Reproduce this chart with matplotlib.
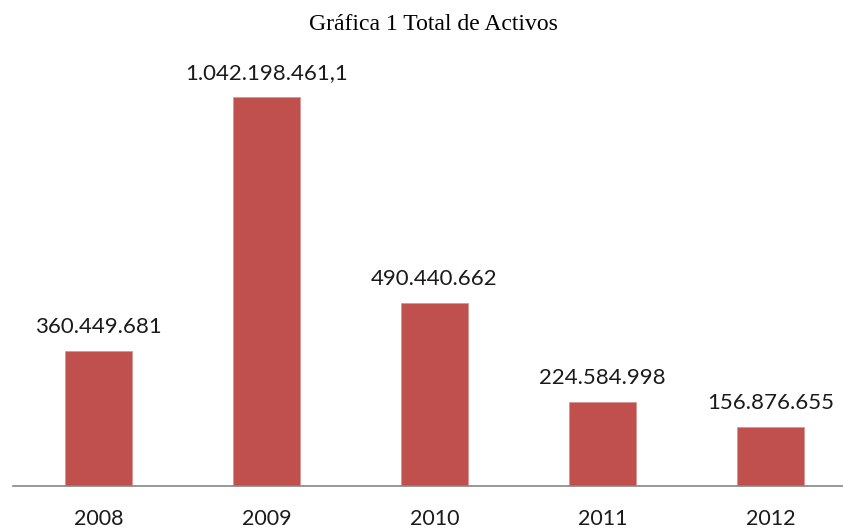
import matplotlib.pyplot as plt

years = ['2008', '2009', '2010', '2011', '2012']
totals = [360449681, 1042198461.1, 490440662, 224584998, 156876655]
labels = ['360.449.681', '1.042.198.461,1', '490.440.662', '224.584.998', '156.876.655']

W, H = 843, 529
fig = plt.figure(figsize=(W / 100, H / 100), dpi=100)

# axes placed in pixel terms: baseline at y=485.5, line from x=13 to the right edge
left, right = 13, 843
bottom, top = 485.5, 60
ax = fig.add_axes([left / W, 1 - bottom / H, (right - left) / W, (bottom - top) / H])

step = 168.0
x0 = 98.5
ax.set_xlim((left - x0) / step, (right - x0) / step)
px_per_val = (bottom - 97) / totals[1]
ax.set_ylim(0, (bottom - top) / px_per_val)

pos = list(range(len(years)))
ax.bar(pos, totals, width=0.4, color='#C0504D', edgecolor='#D99694', linewidth=0.6, zorder=2)

for p, v, lab in zip(pos, totals, labels):
    ax.annotate(lab, (p, v), xytext=(0, 10), textcoords='offset points',
                ha='center', va='bottom', fontsize=16, family='Lato', color='#1a1a1a')

ax.set_xticks(pos)
ax.set_xticklabels(years, fontsize=15.5, family='Lato', color='#1a1a1a')
ax.tick_params(axis='x', length=0, pad=17)
ax.set_yticks([])
for s in ['top', 'right', 'left']:
    ax.spines[s].set_visible(False)
ax.spines['bottom'].set_color('#868686')
ax.spines['bottom'].set_linewidth(1.2)

fig.text(433 / W, 1 - 25 / H, 'Gráfica 1 Total de Activos', ha='center', va='center',
         fontsize=17, family='Liberation Serif', color='black')

fig.savefig('out.png', dpi=100)
